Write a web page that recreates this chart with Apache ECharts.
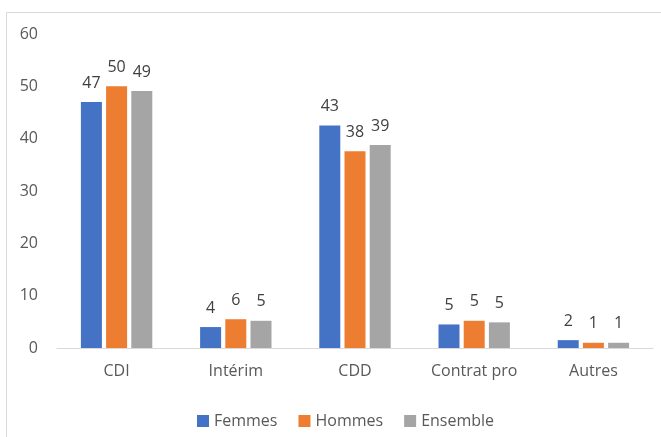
<!DOCTYPE html>
<html>
<head>
<meta charset="utf-8">
<script src="https://cdn.jsdelivr.net/npm/echarts@6/dist/echarts.min.js"></script>
<style>
html,body{margin:0;padding:0;background:#fff;}
#chart{width:661px;height:437px;}
</style>
</head>
<body>
<div id="chart"></div>
<script>
const categories = ['CDI', 'Intérim', 'CDD', 'Contrat pro', 'Autres'];
const femmes = [47, 4, 42.5, 4.5, 1.5];
const hommes = [50, 5.5, 37.6, 5.2, 1.0];
const ensemble = [49.1, 5.2, 38.8, 4.9, 1.0];
const yTicks = { min: 0, max: 60, interval: 10 };

const FONT = 'Open Sans';
const TXT = '#595959';

const chart = echarts.init(document.getElementById('chart'), null, { renderer: 'canvas' });

function barSeries(name, data, color) {
  return {
    name: name,
    type: 'bar',
    data: data,
    barWidth: 21,
    barGap: '20%',
    itemStyle: { color: color },
    label: {
      show: true,
      position: 'top',
      distance: 11,
      color: '#404040',
      fontFamily: FONT,
      fontSize: 16,
      formatter: p => Math.round(p.value)
    }
  };
}

chart.setOption({
  animation: false,
  backgroundColor: '#fff',
  textStyle: { fontFamily: FONT },
  graphic: [{
    type: 'rect',
    shape: { x: 6.5, y: 12.5, width: 700, height: 500 },
    style: { fill: 'none', stroke: '#d9d9d9', lineWidth: 1 },
    silent: true,
    z: -1
  }],
  grid: { left: 57, right: 8, top: 34, bottom: 89, containLabel: false },
  legend: {
    left: 192,
    top: 408,
    itemWidth: 12,
    itemHeight: 12,
    itemGap: 21,
    icon: 'rect',
    textStyle: { color: TXT, fontSize: 16, fontFamily: FONT },
    data: ['Femmes', 'Hommes', 'Ensemble']
  },
  xAxis: {
    type: 'category',
    data: categories,
    axisLine: { show: true, lineStyle: { color: '#d9d9d9', width: 1 } },
    axisTick: { show: false },
    axisLabel: { color: TXT, fontSize: 16, fontFamily: FONT, margin: 15 }
  },
  yAxis: {
    type: 'value',
    min: yTicks.min,
    max: yTicks.max,
    interval: yTicks.interval,
    axisLine: { show: false },
    axisTick: { show: false },
    splitLine: { show: false },
    axisLabel: { color: TXT, fontSize: 16, fontFamily: FONT, margin: 19 }
  },
  series: [
    barSeries('Femmes', femmes, '#4472c4'),
    barSeries('Hommes', hommes, '#ed7d31'),
    barSeries('Ensemble', ensemble, '#a5a5a5')
  ]
});
</script>
</body>
</html>
